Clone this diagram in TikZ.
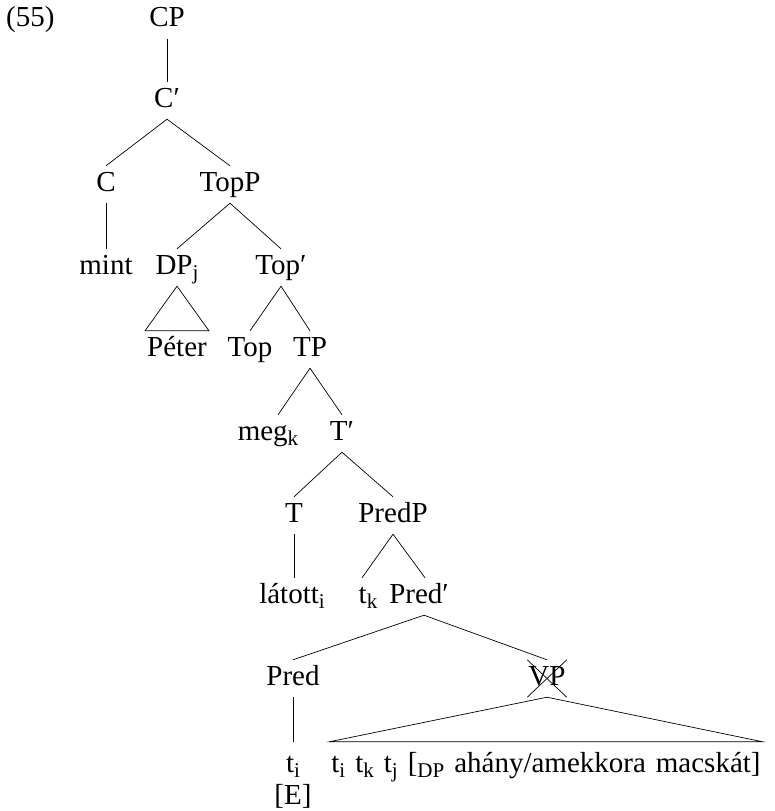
\documentclass[tikz,border=0pt]{standalone}
\usepackage{fontspec}
\setmainfont{Liberation Serif}
\newcommand{\treefont}{\fontsize{29}{34}\selectfont}
\newcommand{\sbs}[1]{\raisebox{-5pt}{\fontsize{21}{21}\selectfont #1}}
\tikzset{
  lab/.style={anchor=base, inner xsep=2pt, inner ysep=6pt, text height=19pt, text depth=6pt, font=\treefont},
  lowlab/.style={lab, text height=24pt},
  br/.style={line width=0.7pt}
}
\begin{document}
\begin{tikzpicture}[x=1pt,y=-1pt]
\useasboundingbox (0,0) rectangle (774,811);
\node[lab, anchor=base west, inner xsep=0pt] (ex) at (6,27) {(55)};
\node[lab] (cp) at (167,27) {CP};
\node[lab] (cbar) at (167,107) {C′};
\node[lab] (c) at (106,191) {C};
\node[lab] (topp) at (230,191) {TopP};
\node[lab] (mint) at (106,274) {mint};
\node[lab] (dp) at (177,274) {DP\sbs{j}};
\node[lab] (topbar) at (281,274) {Top′};
\node[lab] (peter) at (177,356) {Péter};
\node[lab] (top) at (250,356) {Top};
\node[lab] (tp) at (310,356) {TP};
\node[lab] (meg) at (268,440) {meg\sbs{k}};
\node[lab] (tbar) at (342,440) {T′};
\node[lab] (t) at (294,522) {T};
\node[lab] (predp) at (393,522) {PredP};
\node[lab] (latott) at (292,603) {látott\sbs{i}};
\node[lab] (tk) at (368,603) {t\sbs{k}};
\node[lab] (predbar) at (419,603) {Pred′};
\node[lab] (pred) at (293,685) {Pred};
\node[lab, inner xsep=1pt] (vp) at (547,685) {VP};
\node[lowlab] (ti) at (293,772) {t\sbs{i}};
\node[lab, text height=15pt] (e) at (293,804) {[E]};
\node[lowlab] (long) at (546,772) {\spaceskip=10pt plus 2pt\relax t\sbs{i} t\sbs{k} t\sbs{j} [\sbs{DP} ahány/amekkora macskát]};
\draw[br] (cp.south) -- (cbar.north);
\draw[br] (cbar.south) -- (c.north);
\draw[br] (cbar.south) -- (topp.north);
\draw[br] (c.south) -- (mint.north);
\draw[br] (topp.south) -- (dp.north);
\draw[br] (topp.south) -- (topbar.north);
\draw[br] (dp.south) -- (peter.north west) -- (peter.north east) -- cycle;
\draw[br] (topbar.south) -- (top.north);
\draw[br] (topbar.south) -- (tp.north);
\draw[br] (tp.south) -- ([xshift=10pt]meg.north);
\draw[br] (tp.south) -- (tbar.north);
\draw[br] (tbar.south) -- (t.north);
\draw[br] (tbar.south) -- (predp.north);
\draw[br] (t.south) -- (t.south |- latott.north);
\draw[br] (predp.south) -- ([xshift=-6pt]tk.north);
\draw[br] (predp.south) -- ([xshift=6pt]predbar.north);
\draw[br] ([xshift=5pt]predbar.south) -- (pred.north);
\draw[br] ([xshift=5pt]predbar.south) -- (vp.north);
\draw[br] (pred.south) -- (ti.north);
\draw[br] (vp.south) -- (long.north west) -- (long.north east) -- cycle;
\draw[br] (vp.north west) -- (vp.south east);
\draw[br] (vp.north east) -- (vp.south west);
\end{tikzpicture}
\end{document}
